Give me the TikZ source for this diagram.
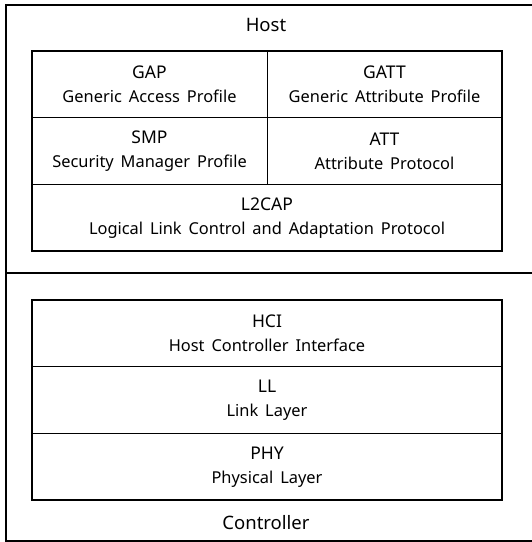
\documentclass[tikz,border=0pt]{standalone}
\usepackage{fontspec}
\setmainfont{Noto Sans}
\usetikzlibrary{positioning, fit}

\newcommand{\descfont}{\fontsize{16.4}{24}\selectfont\spaceskip=0.42em plus 0.1em}

\begin{document}
\begin{tikzpicture}[x=1pt, y=-1pt, node distance=0pt]
    \tikzstyle{cell}=[draw, rectangle, line width=1pt, outer sep=0pt, minimum height=66.7pt, inner sep=0pt, align=center, font=\fontsize{17.5}{24}\selectfont];
    \tikzstyle{half}=[cell, minimum width=235pt];
    \tikzstyle{full}=[cell, minimum width=470pt];
    \tikzstyle{stack}=[draw, line width=1.8pt, inner sep=0pt];
    \tikzstyle{title}=[font=\fontsize{18.5}{22}\selectfont, inner sep=0pt];
    \useasboundingbox (0,0) rectangle (532,542);

    % outer frame, open on the right
    \draw[line width=1.4pt] (532,5) -- (6,5) -- (6,541) -- (532,541);
    \draw[line width=1.2pt] (6,273) -- (532,273);
    \node[title] (host) at (266,25) {Host};
    \node[title] (ctrl) at (266,523) {Controller};

    % host layers
    \node[half, anchor=north west] (gap) at (32,51) {GAP\\\descfont Generic Access Profile};
    \node[half, right=of gap] (gatt) {GATT\\\descfont Generic Attribute Profile};
    \node[half, below=of gap] (smp) {SMP\\\descfont Security Manager Profile};
    \node[half, right=of smp] (att) {ATT\\\descfont Attribute Protocol};
    \node[full, below right=0pt and 0pt of smp.south west] (l2cap) {L2CAP\\\descfont Logical Link Control and Adaptation Protocol};
    \node[stack, fit=(gap)(gatt)(l2cap)] (hoststack) {};

    % controller layers
    \node[full, anchor=north west] (hci) at (32,300) {HCI\\\descfont Host Controller Interface};
    \node[full, below=of hci] (ll) {LL\\\descfont Link Layer};
    \node[full, below=of ll] (phy) {PHY\\\descfont Physical Layer};
    \node[stack, fit=(hci)(phy)] (ctrlstack) {};
\end{tikzpicture}
\end{document}
